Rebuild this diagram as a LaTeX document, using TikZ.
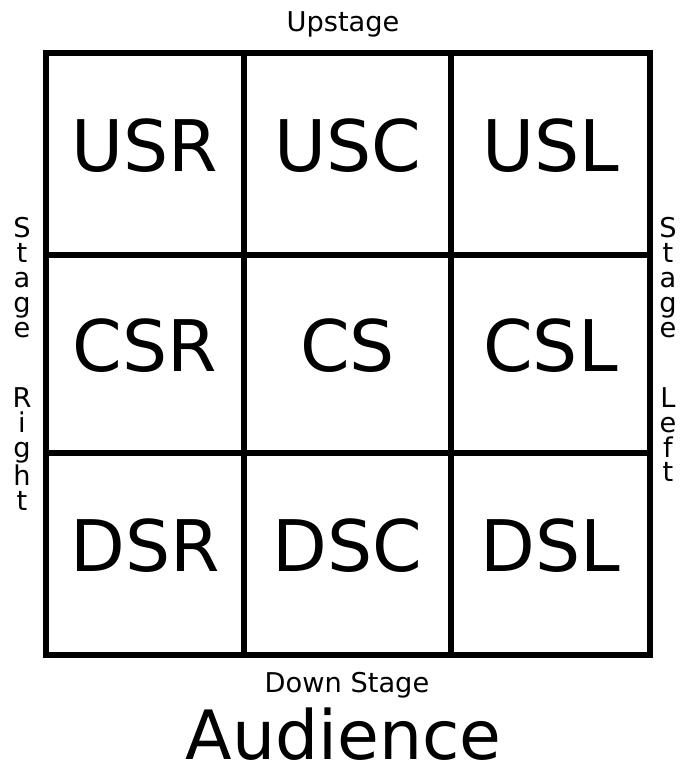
\documentclass[tikz,border=0pt]{standalone}
\usepackage{fontspec}
\setmainfont{DejaVu Sans}
\usetikzlibrary{positioning}

\begin{document}
\begin{tikzpicture}[x=0.02cm,y=-0.02cm,
 cell/.style 2 args={draw,line width=0.12cm,minimum width=#1,minimum height=#2,inner sep=0pt,
  font=\fontsize{40.5}{48}\selectfont,text height=29.5pt,text depth=10pt},
 side/.style={font=\fontsize{15.5}{14.2}\selectfont,align=center,inner sep=0pt,anchor=north},
 captext/.style={font=\fontsize{15.5}{18}\selectfont,inner sep=0pt,anchor=base}]
\useasboundingbox (0,0) rectangle (682,768);
% stage grid
\node[cell={3.96cm}{4.04cm}] (usr) at (145,154) {USR};
\node[cell={4.14cm}{4.04cm}] (usc) at (347.5,154) {USC};
\node[cell={3.98cm}{4.04cm}] (usl) at (550.5,154) {USL};
\node[cell={3.96cm}{3.96cm}] (csr) at (145,354) {CSR};
\node[cell={4.14cm}{3.96cm}] (cs) at (347.5,354) {CS};
\node[cell={3.98cm}{3.96cm}] (csl) at (550.5,354) {CSL};
\node[cell={3.96cm}{4.04cm}] (dsr) at (145,554) {DSR};
\node[cell={4.14cm}{4.04cm}] (dsc) at (347.5,554) {DSC};
\node[cell={3.98cm}{4.04cm}] (dsl) at (550.5,554) {DSL};
% labels round it
\node[captext] (up) at (343,31) {Upstage};
\node[captext] (down) at (347,692) {Down Stage};
\node[side] (sr) at (22,217) {S\\t\\a\\g\\e\\[25.5pt]R\\i\\g\\h\\t};
\node[side] (sl) at (668,217) {S\\t\\a\\g\\e\\[25.5pt]L\\e\\f\\t};
\node[anchor=base,inner sep=0pt,font=\fontsize{38.7}{46}\selectfont] (aud) at (343.5,759) {Audience};
\end{tikzpicture}
\end{document}
